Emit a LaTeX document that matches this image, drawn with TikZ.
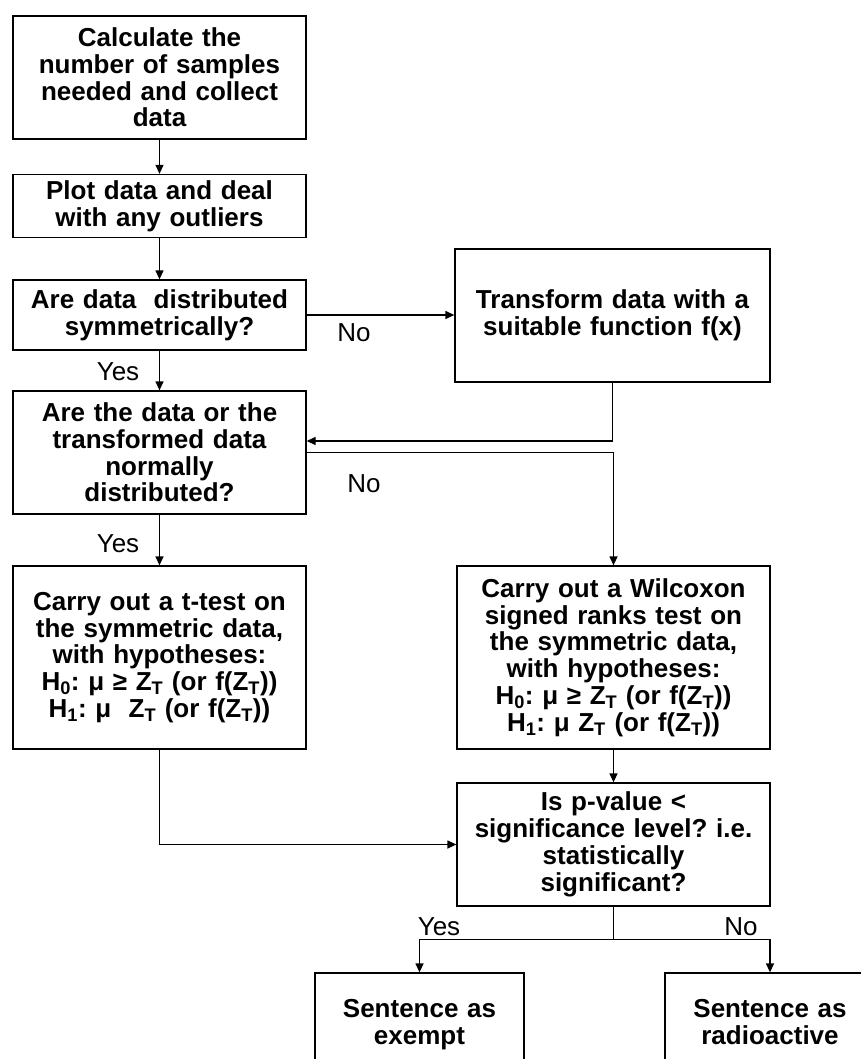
\documentclass[tikz,border=0pt]{standalone}
\usepackage{fontspec}
\setmainfont{Liberation Sans}
\usetikzlibrary{arrows.meta}
\frenchspacing
\begin{document}
\begin{tikzpicture}[x=1pt,y=-1pt,
  box/.style={draw, line width=1.3pt, align=center, inner sep=0pt,
    font=\fontsize{26}{26.8}\selectfont\bfseries},
  lbl/.style={font=\fontsize{26}{26.8}\selectfont, inner sep=0pt},
  link/.style={line width=1.3pt},
  arr/.style={link, -{Triangle[length=9pt,width=8pt]}}]
\useasboundingbox (0,0) rectangle (861,1059);
\clip (0,0) rectangle (861,1059);

% left column
\node[box, minimum width=293pt, minimum height=123pt, text width=291pt] (n1) at (159.5,77.5)
  {Calculate the\\number of samples\\needed and collect\\data};
\node[box, minimum width=293pt, minimum height=63pt, text width=291pt] (n2) at (159.5,206)
  {Plot data and deal\\with any outliers};
\node[box, minimum width=293pt, minimum height=70pt, text width=291pt] (n3) at (159.5,315)
  {Are data\ \ distributed\\symmetrically?};
\node[box, minimum width=293pt, minimum height=123pt, text width=291pt] (n4) at (159.5,452.5)
  {Are the data or the\\transformed data\\normally\\distributed?};
\node[box, minimum width=293pt, minimum height=183pt, text width=291pt] (tt) at (159.5,657.5)
  {Carry out a t-test on\\the symmetric data,\\with hypotheses:\\
   H\textsubscript{0}: μ ≥ Z\textsubscript{T} (or f(Z\textsubscript{T}))\\
   H\textsubscript{1}: μ\ \ Z\textsubscript{T} (or f(Z\textsubscript{T}))};

% right column
\node[box, minimum width=315pt, minimum height=133pt, text width=313pt] (tr) at (612.5,315.5)
  {Transform data with a\\suitable function f(x)};
\node[box, minimum width=313pt, minimum height=183pt, text width=311pt] (wx) at (613.5,657.5)
  {Carry out a Wilcoxon\\signed ranks test on\\the symmetric data,\\with hypotheses:\\
   H\textsubscript{0}: μ ≥ Z\textsubscript{T} (or f(Z\textsubscript{T}))\\
   H\textsubscript{1}: μ Z\textsubscript{T} (or f(Z\textsubscript{T}))};
\node[box, minimum width=313pt, minimum height=123pt, text width=311pt] (sg) at (613.5,844.5)
  {Is p-value <\\significance level? i.e.\\statistically\\significant?};

% outcomes (their lower part runs off the page)
\node[box, minimum width=209pt, minimum height=106pt, text width=207pt] (ex) at (419.5,1026)
  {Sentence as\\exempt\strut};
\node[box, minimum width=210pt, minimum height=106pt, text width=208pt] (ra) at (770,1026)
  {Sentence as\\radioactive\strut};

% connectors
\draw[arr] (n1) -- (n2);
\draw[arr] (n2) -- (n3);
\draw[arr] (n3) -- (n4);
\draw[arr] (n4) -- (tt);
\draw[arr] (n3.east) -- (n3.east -| tr.west);
\draw[arr] (tr.south) |- ([yshift=11.5pt]n4.east);
\draw[arr] (n4.east) -| (wx.north);
\draw[arr] (wx) -- (sg);
\draw[arr] (tt.south) |- (sg.west);
\path (sg.south) ++(0,33) coordinate (fork);
\draw[link] (sg.south) -- (fork);
\draw[arr] (fork) -| (ex.north);
\draw[arr] (fork) -| (ra.north);

% branch labels
\node[lbl] (y1) at (118,372) {Yes};
\node[lbl] (y2) at (118,544) {Yes};
\node[lbl] (no1) at (354,333) {No};
\node[lbl] (no2) at (364,484) {No};
\node[lbl] (y3) at (439,927) {Yes};
\node[lbl] (no3) at (741,927) {No};
\end{tikzpicture}
\end{document}
